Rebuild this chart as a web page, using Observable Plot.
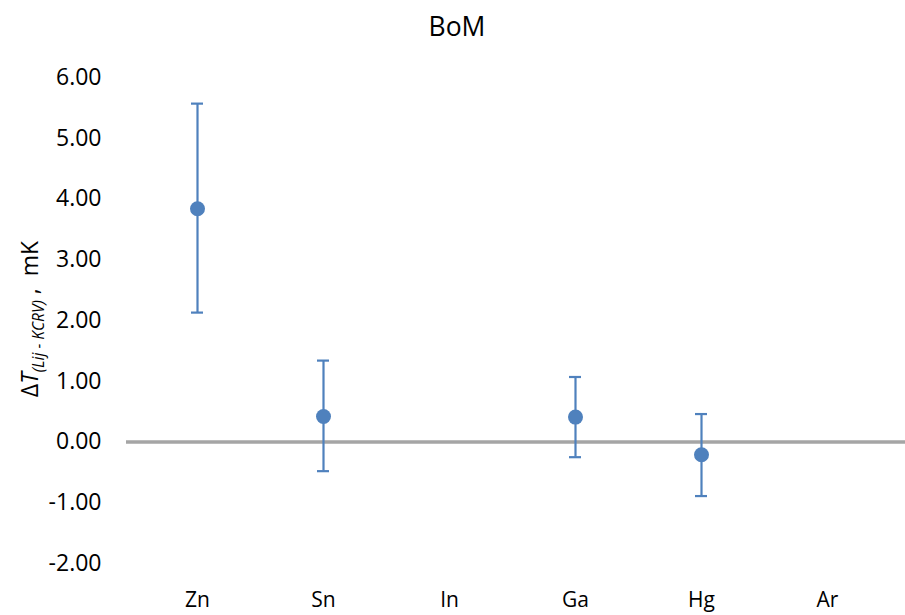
<!DOCTYPE html>
<html>
<head>
<meta charset="utf-8">
<script src="https://cdn.jsdelivr.net/npm/d3@7"></script>
<script src="https://cdn.jsdelivr.net/npm/@observablehq/plot@0.6"></script>
<style>
  html, body { margin: 0; padding: 0; background: #fff; }
  svg { display: block; }
</style>
</head>
<body>
<div id="chart"></div>
<script>
const categories = ["Zn", "Sn", "In", "Ga", "Hg", "Ar"];
const values = [3.84, 0.42, null, 0.41, -0.21, null];
const upper = [5.57, 1.34, null, 1.07, 0.46, null];
const lower = [2.13, -0.48, null, -0.25, -0.89, null];
const yTicks = [-2, -1, 0, 1, 2, 3, 4, 5, 6];
const title = "BoM";

const data = categories.map((c, i) => ({cat: c, v: values[i], hi: upper[i], lo: lower[i]}))
  .filter(d => d.v != null);

const blue = "#4F81BD";
const font = "'Open Sans', sans-serif";

const chart = Plot.plot({
  width: 905,
  height: 615,
  marginTop: 77,
  marginBottom: 52,
  marginLeft: 126,
  marginRight: 0,
  style: {fontFamily: font, background: "#fff", color: "#000"},
  x: {type: "band", domain: categories, range: [133, 891], padding: 0, label: null},
  y: {domain: [-2, 6], ticks: yTicks, label: null, tickFormat: d => d.toFixed(2)},
  marks: [
    Plot.axisY({ticks: yTicks, tickSize: 0, tickPadding: 25, fontSize: 23, tickFormat: d => d.toFixed(2), label: null}),
    Plot.axisX({tickSize: 0, tickPadding: 29, fontSize: 21, label: null}),
    Plot.ruleY([0], {stroke: "#A5A5A5", strokeWidth: 3.5}),
    Plot.ruleX(data, {x: "cat", y1: "lo", y2: "hi", stroke: blue, strokeWidth: 2.2}),
    Plot.tickY(data, {x: "cat", y: "hi", stroke: blue, strokeWidth: 2.2, insetLeft: 57, insetRight: 57}),
    Plot.tickY(data, {x: "cat", y: "lo", stroke: blue, strokeWidth: 2.2, insetLeft: 57, insetRight: 57}),
    Plot.dot(data, {x: "cat", y: "v", r: 7.5, fill: blue, stroke: "none"})
  ]
});

const svg = d3.select(chart);
svg.append("text")
  .attr("x", 457)
  .attr("y", 36)
  .attr("text-anchor", "middle")
  .style("font-family", font)
  .style("font-size", "26.5px")
  .attr("fill", "#000")
  .text(title);

const lab = svg.append("text")
  .attr("transform", "translate(38,319) rotate(-90)")
  .attr("text-anchor", "middle")
  .style("font-family", font)
  .style("font-size", "23px")
  .attr("fill", "#000");
lab.append("tspan").text("Δ");
lab.append("tspan").style("font-style", "italic").text("T");
lab.append("tspan").style("font-style", "italic").style("font-size", "15.5px").attr("dy", 6).text("(Lij - KCRV)");
lab.append("tspan").attr("dy", -6).text(" ,  mK");

document.getElementById("chart").appendChild(chart);
</script>
</body>
</html>
